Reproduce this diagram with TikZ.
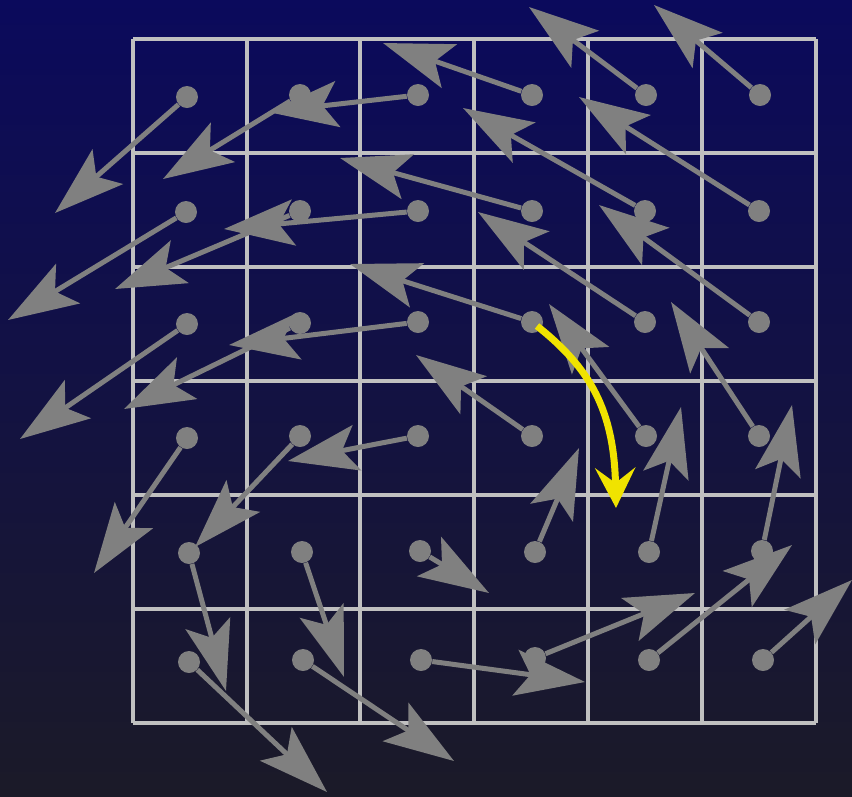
\documentclass[tikz,border=0pt]{standalone}
\usetikzlibrary{arrows.meta}

\definecolor{bgtop}{HTML}{0B0A5C}
\definecolor{bgmid}{HTML}{161449}
\definecolor{bgbot}{HTML}{1B1A28}
\definecolor{vecgray}{HTML}{808080}
\definecolor{gridgray}{HTML}{C0C0C0}
\definecolor{flowyellow}{HTML}{F0E300}

\tikzset{
  dot/.style={circle, fill=vecgray, minimum size=0.44cm, inner sep=0pt},
  vec/.style={draw=vecgray, line width=0.1cm,
    -{Stealth[length=1.4cm, width=0.92cm, inset=0.3cm]}},
  gridline/.style={draw=gridgray, line width=0.08cm},
  flow/.style={draw=flowyellow, line width=0.14cm,
    -{Stealth[length=0.8cm, width=0.8cm, inset=0.3cm]}}
}

\begin{document}
\begin{tikzpicture}[x=0.02cm, y=-0.02cm]
  % Background
  \shade[top color=bgtop, middle color=bgmid, bottom color=bgbot] (0,0) rectangle (852,796);
  \useasboundingbox (0,0) rectangle (852,796);

  % Grid
  \foreach \gx in {133,247,360,474,588,702,816}
    \draw[gridline] (\gx,39) -- (\gx,723);
  \foreach \gy in {39,153,267,381,495,609,723}
    \draw[gridline] (133,\gy) -- (816,\gy);

  % Row 1
  \node[dot] (d11) at (187,97) {};  \coordinate (t11) at (55,213);
  \node[dot] (d12) at (300,95) {};  \coordinate (t12) at (163,179);
  \node[dot] (d13) at (418,95) {};  \coordinate (t13) at (268,112);
  \node[dot] (d14) at (532,95) {};  \coordinate (t14) at (383,43);
  \node[dot] (d15) at (646,95) {};  \coordinate (t15) at (529,7);
  \node[dot] (d16) at (760,95) {};  \coordinate (t16) at (654,5);

  % Row 2
  \node[dot] (d21) at (186,212) {}; \coordinate (t21) at (8,320);
  \node[dot] (d22) at (300,211) {}; \coordinate (t22) at (115,289);
  \node[dot] (d23) at (418,211) {}; \coordinate (t23) at (224,229);
  \node[dot] (d24) at (532,211) {}; \coordinate (t24) at (340,158);
  \node[dot] (d25) at (645,211) {}; \coordinate (t25) at (463,108);
  \node[dot] (d26) at (759,211) {}; \coordinate (t26) at (579,97);

  % Row 3
  \node[dot] (d31) at (187,324) {}; \coordinate (t31) at (20,439);
  \node[dot] (d32) at (300,323) {}; \coordinate (t32) at (124,409);
  \node[dot] (d33) at (418,322) {}; \coordinate (t33) at (229,345);
  \node[dot] (d34) at (532,322) {}; \coordinate (t34) at (350,264);
  \node[dot] (d35) at (645,322) {}; \coordinate (t35) at (478,212);
  \node[dot] (d36) at (759,322) {}; \coordinate (t36) at (599,205);

  % Row 4
  \node[dot] (d41) at (187,438) {}; \coordinate (t41) at (94,573);
  \node[dot] (d42) at (300,436) {}; \coordinate (t42) at (195,547);
  \node[dot] (d43) at (418,436) {}; \coordinate (t43) at (288,461);
  \node[dot] (d44) at (532,436) {}; \coordinate (t44) at (416,355);
  \node[dot] (d45) at (646,436) {}; \coordinate (t45) at (549,304);
  \node[dot] (d46) at (759,436) {}; \coordinate (t46) at (671,302);

  % Row 5
  \node[dot] (d51) at (189,553) {}; \coordinate (t51) at (226,691);
  \node[dot] (d52) at (302,552) {}; \coordinate (t52) at (344,677);
  \node[dot] (d53) at (420,551) {}; \coordinate (t53) at (489,593);
  \node[dot] (d54) at (535,552) {}; \coordinate (t54) at (579,448);
  \node[dot] (d55) at (649,552) {}; \coordinate (t55) at (681,407);
  \node[dot] (d56) at (762,551) {}; \coordinate (t56) at (792,405);

  % Row 6
  \node[dot] (d61) at (189,662) {}; \coordinate (t61) at (327,792);
  \node[dot] (d62) at (303,660) {}; \coordinate (t62) at (454,761);
  \node[dot] (d63) at (421,660) {}; \coordinate (t63) at (585,682);
  \node[dot] (d64) at (535,658) {}; \coordinate (t64) at (695,593);
  \node[dot] (d65) at (649,660) {}; \coordinate (t65) at (792,545);
  \node[dot] (d66) at (763,660) {}; \coordinate (t66) at (852,580);

  % Vectors
  \draw[vec] (d11) -- (t11);  \draw[vec] (d12) -- (t12);  \draw[vec] (d13) -- (t13);
  \draw[vec] (d14) -- (t14);  \draw[vec] (d15) -- (t15);  \draw[vec] (d16) -- (t16);
  \draw[vec] (d21) -- (t21);  \draw[vec] (d22) -- (t22);  \draw[vec] (d23) -- (t23);
  \draw[vec] (d24) -- (t24);  \draw[vec] (d25) -- (t25);  \draw[vec] (d26) -- (t26);
  \draw[vec] (d31) -- (t31);  \draw[vec] (d32) -- (t32);  \draw[vec] (d33) -- (t33);
  \draw[vec] (d34) -- (t34);  \draw[vec] (d35) -- (t35);  \draw[vec] (d36) -- (t36);
  \draw[vec] (d41) -- (t41);  \draw[vec] (d42) -- (t42);  \draw[vec] (d43) -- (t43);
  \draw[vec] (d44) -- (t44);  \draw[vec] (d45) -- (t45);  \draw[vec] (d46) -- (t46);
  \draw[vec] (d51) -- (t51);  \draw[vec] (d52) -- (t52);  \draw[vec] (d53) -- (t53);
  \draw[vec] (d54) -- (t54);  \draw[vec] (d55) -- (t55);  \draw[vec] (d56) -- (t56);
  \draw[vec] (d61) -- (t61);  \draw[vec] (d62) -- (t62);  \draw[vec] (d63) -- (t63);
  \draw[vec] (d64) -- (t64);  \draw[vec] (d65) -- (t65);  \draw[vec] (d66) -- (t66);

  % Flow line
  \coordinate (fstart) at (537,326);
  \coordinate (fend) at (616,508);
  \draw[flow] (fstart) .. controls (590,368) and (614,410) .. (fend);
\end{tikzpicture}
\end{document}
